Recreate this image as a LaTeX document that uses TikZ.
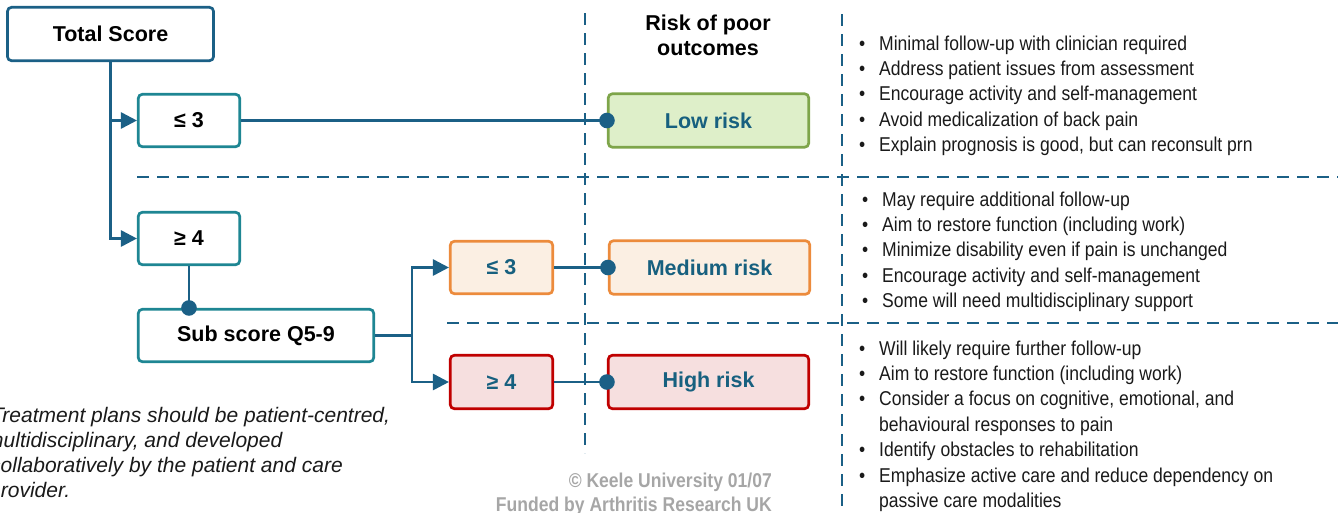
\documentclass[tikz,border=0pt]{standalone}
\usepackage{fontspec}
\setmainfont{Liberation Sans}
\newfontfamily\narrowfont[FakeStretch=0.877]{Liberation Sans}
\usetikzlibrary{arrows.meta}
\definecolor{lineblue}{HTML}{1B6086}
\definecolor{tealb}{HTML}{1E8693}
\definecolor{txtblue}{HTML}{17607F}
\definecolor{lowfill}{HTML}{DEEFC9}
\definecolor{lowline}{HTML}{7EA54A}
\definecolor{medfill}{HTML}{FBEFE3}
\definecolor{medline}{HTML}{EC8B3C}
\definecolor{hifill}{HTML}{F6DFDF}
\definecolor{hiline}{HTML}{C00000}
\definecolor{graytxt}{HTML}{A6A6A6}
\definecolor{bodytxt}{HTML}{1A1A1A}
\begin{document}
\begin{tikzpicture}[x=1pt,y=-1pt,
  box/.style={draw, line width=2.7pt, rounded corners=4pt, inner sep=0pt,
    font=\fontsize{21.5}{25}\selectfont\bfseries, text=black},
  topbox/.style={box, draw=lineblue},
  tealbox/.style={box, draw=tealb, fill=white},
  lowbox/.style={box, draw=lowline, fill=lowfill, text=txtblue},
  medbox/.style={box, draw=medline, fill=medfill, text=txtblue},
  hibox/.style={box, draw=hiline, fill=hifill, text=txtblue},
  conn/.style={draw=lineblue, line width=2.7pt},
  arr/.style={conn, -{Triangle[length=16pt,width=16pt]}},
  dotc/.style={fill=lineblue},
  dsh/.style={draw=lineblue, line width=2.8pt, dash pattern=on 12pt off 8pt},
  bullets/.style={anchor=base west, inner sep=0pt, text=bodytxt,
    font=\narrowfont\fontsize{20}{25.4}\selectfont},
  title/.style={anchor=base, inner sep=0pt, font=\fontsize{21.5}{25}\selectfont\bfseries},
  note/.style={anchor=base west, inner sep=0pt, text=bodytxt, font=\fontsize{21}{25}\selectfont\itshape},
  credit/.style={anchor=base east, inner sep=0pt, text=graytxt, font=\narrowfont\fontsize{20}{24}\selectfont\bfseries}
]
\useasboundingbox (0,0) rectangle (1338,512);

% dashed grid lines
\draw[dsh] (585,13) -- (585,453);
\draw[dsh] (842,14) -- (842,512);
\draw[dsh] (137,177) -- (1338,177);
\draw[dsh] (447,323) -- (1338,323);

% boxes
\node[topbox, minimum width=206pt, minimum height=53.4pt] (ts) at (110.5,34) {Total Score};
\node[tealbox, minimum width=101.4pt, minimum height=52.4pt] (le3) at (189,120.5) {≤ 3};
\node[tealbox, minimum width=101.4pt, minimum height=52.4pt] (ge4) at (189,238.5) {≥ 4};
\node[tealbox, minimum width=235.4pt, minimum height=52.4pt] (sub) at (256,335.5) {Sub score Q5-9};
\node[medbox, minimum width=102.4pt, minimum height=52.4pt] (o3) at (501.5,267.5) {≤ 3};
\node[hibox, minimum width=102.4pt, minimum height=53.4pt] (r4) at (501.5,382) {≥ 4};
\node[lowbox, minimum width=200.4pt, minimum height=53.4pt] (low) at (708.5,120.5) {Low risk};
\node[medbox, minimum width=200.4pt, minimum height=53.4pt] (med) at (709.5,267.5) {Medium risk};
\node[hibox, minimum width=200.4pt, minimum height=53.4pt] (high) at (708.5,382) {High risk};

% connectors
\draw[arr] (ts.south) |- (le3.west);
\draw[arr] (ts.south) |- (ge4.west);
\draw[conn] (ge4.south) -- (ge4.south |- sub.north);
\fill[dotc] (ge4.south |- sub.north) circle (7.8pt);
\coordinate (jn) at (412,335.5);
\draw[conn] (sub.east) -- (jn);
\draw[arr] (jn) |- (o3.west);
\draw[arr] (jn) |- (r4.west);
\draw[conn] (le3.east) -- (low.west);
\fill[dotc] (low.west) circle (7.8pt);
\draw[conn] (o3.east) -- (med.west);
\fill[dotc] (med.west) circle (7.8pt);
\draw[conn] (r4.east) -- (high.west);
\fill[dotc] (high.west) circle (7.8pt);

% titles
\node[title] (rt1) at (708,30) {Risk of poor};
\node[title] (rt2) at (708,55) {outcomes};

% bullet lists
\node[bullets] (lowlist) at (859,50) {\begin{tabular}[t]{@{}p{20pt}@{}l@{}}
•&Minimal follow-up with clinician required\\
•&Address patient issues from assessment\\
•&Encourage activity and self-management\\
•&Avoid medicalization of back pain\\
•&Explain prognosis is good, but can reconsult prn
\end{tabular}};
\node[bullets] (medlist) at (862,206) {\begin{tabular}[t]{@{}p{20pt}@{}l@{}}
•&May require additional follow-up\\
•&Aim to restore function (including work)\\
•&Minimize disability even if pain is unchanged\\
•&Encourage activity and self-management\\
•&Some will need multidisciplinary support
\end{tabular}};
\node[bullets] (hilist) at (859,355) {\begin{tabular}[t]{@{}p{20pt}@{}l@{}}
•&Will likely require further follow-up\\
•&Aim to restore function (including work)\\
•&Consider a focus on cognitive, emotional, and\\
&behavioural responses to pain\\
•&Identify obstacles to rehabilitation\\
•&Emphasize active care and reduce dependency on\\
&passive care modalities
\end{tabular}};

% note
\node[note] (n1) at (-9,422) {Treatment plans should be patient-centred,};
\node[note] (n2) at (-14,447) {multidisciplinary, and developed};
\node[note] (n3) at (-10,472) {collaboratively by the patient and care};
\node[note] (n4) at (-11,497) {provider.};

% credits
\node[credit] (c1) at (772,487) {© Keele University 01/07};
\node[credit] (c2) at (772,511) {Funded by Arthritis Research UK};
\end{tikzpicture}
\end{document}
